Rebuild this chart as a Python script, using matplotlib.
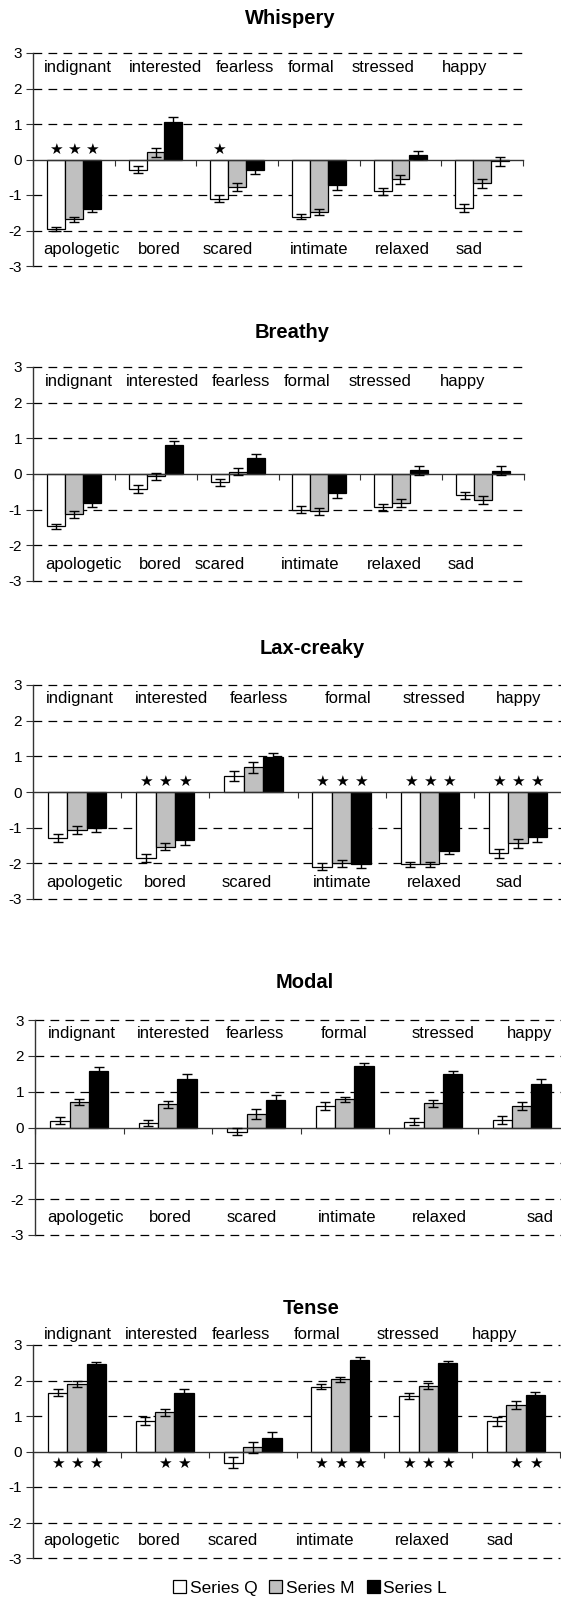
import matplotlib
matplotlib.use("Agg")
import matplotlib.pyplot as plt
from matplotlib.patches import Patch

plt.rcParams['font.family'] = ['Liberation Sans', 'DejaVu Sans']

# ---------------- data ----------------
top_labels = ['indignant', 'interested', 'fearless', 'formal', 'stressed', 'happy']
bottom_labels = ['apologetic', 'bored', 'scared', 'intimate', 'relaxed', 'sad']
series_names = ['Series Q', 'Series M', 'Series L']

whispery_q = [-1.95, -0.29, -1.10, -1.61, -0.90, -1.36]
whispery_m = [-1.69, 0.20, -0.77, -1.48, -0.56, -0.67]
whispery_l = [-1.39, 1.07, -0.30, -0.73, 0.13, -0.05]
whispery_eq = [0.06, 0.10, 0.10, 0.08, 0.10, 0.11]
whispery_em = [0.07, 0.12, 0.12, 0.08, 0.12, 0.12]
whispery_el = [0.10, 0.12, 0.12, 0.12, 0.12, 0.12]
whispery_stars = [(0, 0), (0, 1), (0, 2), (2, 0)]

breathy_q = [-1.47, -0.42, -0.23, -1.00, -0.93, -0.60]
breathy_m = [-1.13, -0.06, 0.07, -1.04, -0.81, -0.73]
breathy_l = [-0.81, 0.82, 0.44, -0.54, 0.10, 0.09]
breathy_eq = [0.08, 0.10, 0.10, 0.10, 0.10, 0.10]
breathy_em = [0.10, 0.10, 0.10, 0.10, 0.12, 0.11]
breathy_el = [0.12, 0.11, 0.12, 0.12, 0.13, 0.13]
breathy_stars = []

lax_q = [-1.29, -1.85, 0.45, -2.10, -2.02, -1.72]
lax_m = [-1.07, -1.53, 0.69, -2.00, -2.02, -1.44]
lax_l = [-1.01, -1.35, 0.97, -2.02, -1.65, -1.26]
lax_eq = [0.10, 0.11, 0.13, 0.10, 0.07, 0.12]
lax_em = [0.12, 0.10, 0.15, 0.10, 0.07, 0.12]
lax_el = [0.12, 0.13, 0.12, 0.10, 0.10, 0.13]
lax_stars = [(1, 0), (1, 1), (1, 2), (3, 0), (3, 1), (3, 2),
             (4, 0), (4, 1), (4, 2), (5, 0), (5, 1), (5, 2)]

modal_q = [0.19, 0.12, -0.12, 0.60, 0.16, 0.21]
modal_m = [0.72, 0.65, 0.38, 0.79, 0.67, 0.60]
modal_l = [1.57, 1.35, 0.77, 1.71, 1.48, 1.21]
modal_eq = [0.10, 0.09, 0.10, 0.10, 0.10, 0.10]
modal_em = [0.08, 0.10, 0.15, 0.07, 0.10, 0.10]
modal_el = [0.12, 0.14, 0.13, 0.10, 0.10, 0.14]
modal_stars = []

tense_q = [1.66, 0.86, -0.31, 1.82, 1.57, 0.85]
tense_m = [1.91, 1.11, 0.12, 2.03, 1.84, 1.31]
tense_l = [2.47, 1.66, 0.39, 2.59, 2.49, 1.58]
tense_eq = [0.09, 0.11, 0.16, 0.07, 0.08, 0.12]
tense_em = [0.08, 0.10, 0.15, 0.07, 0.08, 0.10]
tense_el = [0.05, 0.10, 0.17, 0.06, 0.06, 0.10]
tense_stars = [(0, 0), (0, 1), (0, 2), (1, 1), (1, 2), (3, 0), (3, 1), (3, 2),
               (4, 0), (4, 1), (4, 2), (5, 1), (5, 2)]

# ---------------- layout / style ----------------
W, H = 561, 1600
colors = ['white', '#c0c0c0', 'black']
bar_w = 0.22

panels = [
    dict(title='Whispery', q=whispery_q, m=whispery_m, l=whispery_l,
         eq=whispery_eq, em=whispery_em, el=whispery_el, stars=whispery_stars,
         box=(33, 523, 53, 266), title_xy=(290, 18), star_y=0.28,
         top_x=[0.13, 1.18, 2.24, 3.12, 3.90, 5.01], top_y=2.58,
         bot_x=[0.13, 1.28, 2.08, 3.14, 4.19, 5.18], bot_y=-2.53),
    dict(title='Breathy', q=breathy_q, m=breathy_m, l=breathy_l,
         eq=breathy_eq, em=breathy_em, el=breathy_el, stars=breathy_stars,
         box=(33, 524, 367, 581), title_xy=(292, 333), star_y=0.3,
         top_x=[0.15, 1.14, 2.19, 3.07, 3.86, 4.97], top_y=2.6,
         bot_x=[0.15, 1.29, 1.97, 3.03, 4.08, 5.07], bot_y=-2.55),
    dict(title='Lax-creaky', q=lax_q, m=lax_m, l=lax_l,
         eq=lax_eq, em=lax_em, el=lax_el, stars=lax_stars,
         box=(33, 562, 685, 899), title_xy=(312, 648), star_y=0.31,
         top_x=[0.15, 1.16, 2.23, 3.31, 4.19, 5.25], top_y=2.62,
         bot_x=[0.15, 1.26, 2.14, 3.17, 4.24, 5.25], bot_y=-2.55),
    dict(title='Modal', q=modal_q, m=modal_m, l=modal_l,
         eq=modal_eq, em=modal_em, el=modal_el, stars=modal_stars,
         box=(35, 566, 1020, 1235), title_xy=(305, 983), star_y=0.3,
         top_x=[0.14, 1.15, 2.16, 3.23, 4.26, 5.33], top_y=2.62,
         bot_x=[0.14, 1.29, 2.17, 3.20, 4.26, 5.55], bot_y=-2.52),
    dict(title='Tense', q=tense_q, m=tense_m, l=tense_l,
         eq=tense_eq, em=tense_em, el=tense_el, stars=tense_stars,
         box=(33, 560, 1345, 1558), title_xy=(311, 1308), star_y=-0.33,
         top_x=[0.12, 1.05, 2.03, 2.97, 3.91, 5.00], top_y=3.3,
         bot_x=[0.12, 1.20, 1.99, 2.99, 4.12, 5.16], bot_y=-2.52),
]

fig = plt.figure(figsize=(W / 100, H / 100), dpi=100)

for p in panels:
    l, r, t, b = p['box']
    ax = fig.add_axes([l / W, 1 - b / H, (r - l) / W, (b - t) / H])
    ax.set_xlim(0, 6)
    ax.set_ylim(-3, 3)
    for s in ['top', 'right']:
        ax.spines[s].set_visible(False)
    ax.spines['bottom'].set_position(('data', 0))
    ax.spines['bottom'].set_color('#333333')
    ax.spines['left'].set_color('#333333')
    ax.spines['left'].set_linewidth(1.0)
    ax.spines['bottom'].set_linewidth(1.0)
    for yv in [-3, -2, -1, 1, 2, 3]:
        ax.axhline(yv, color='black', lw=0.9, ls=(0, (7, 5)), clip_on=False, zorder=0)
    ax.set_xticks(range(7))
    ax.set_xticklabels([])
    ax.tick_params(axis='x', direction='out', length=4, color='#333333')
    ax.set_yticks(range(-3, 4))
    ax.set_yticklabels([str(v) for v in range(-3, 4)])
    ax.tick_params(axis='y', direction='out', length=5, labelsize=11, pad=3, color='#333333')

    vals = [p['q'], p['m'], p['l']]
    errs = [p['eq'], p['em'], p['el']]
    for k in range(3):
        xs = [i + 0.5 + (k - 1) * bar_w for i in range(6)]
        ax.bar(xs, vals[k], width=bar_w, color=colors[k], edgecolor='black',
               linewidth=0.9, zorder=2,
               yerr=errs[k], capsize=3.5,
               error_kw=dict(elinewidth=1.0, capthick=1.0, ecolor='black', zorder=3))
    for (g, k) in p['stars']:
        ax.text(g + 0.5 + (k - 1) * bar_w, p['star_y'], '\u2605', ha='center', va='center',
                fontsize=11, family='DejaVu Sans', zorder=4)
    for lab, x in zip(top_labels, p['top_x']):
        ax.text(x, p['top_y'], lab, ha='left', va='center', fontsize=12, clip_on=False)
    for lab, x in zip(bottom_labels, p['bot_x']):
        ax.text(x, p['bot_y'], lab, ha='left', va='center', fontsize=12)

    tx, ty = p['title_xy']
    fig.text(tx / W, 1 - ty / H, p['title'], ha='center', va='center',
             fontsize=14.5, fontweight='bold')

handles = [Patch(facecolor=c, edgecolor='black', linewidth=0.9) for c in colors]
fig.legend(handles, series_names, loc='center', bbox_to_anchor=(310 / W, 1 - 1588 / H),
           ncol=3, frameon=False, fontsize=12.5, handlelength=0.75, handleheight=0.75,
           handletextpad=0.2, columnspacing=0.7)

fig.savefig('out.png', dpi=100)
